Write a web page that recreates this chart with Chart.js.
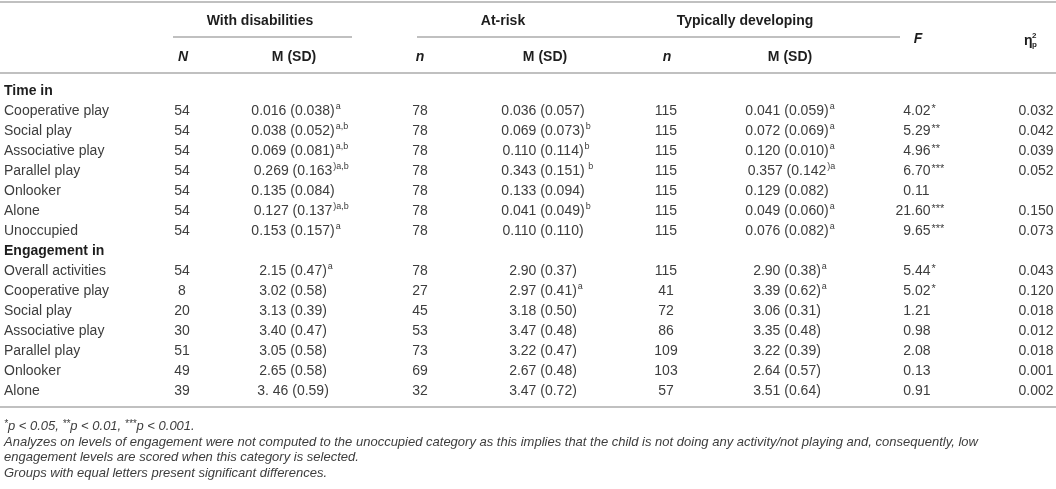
<!DOCTYPE html>
<html>
<head>
<meta charset="utf-8">
<script src="https://cdn.jsdelivr.net/npm/chart.js@4/dist/chart.umd.min.js"></script>
<style>
html, body { margin: 0; padding: 0; background: #fff; }
#wrap { width: 1056px; height: 489px; position: relative; }
</style>
</head>
<body>
<div id="wrap"><canvas id="myChart"></canvas></div>
<script>
// rows of the table, section rows carry no values
const rowLabels = [
    'Time in',
    'Cooperative play', 'Social play', 'Associative play', 'Parallel play',
    'Onlooker', 'Alone', 'Unoccupied',
    'Engagement in',
    'Overall activities', 'Cooperative play', 'Social play', 'Associative play',
    'Parallel play', 'Onlooker', 'Alone'
];
const sectionRows = [0, 8];

// with disabilities
const disN = [null, 54, 54, 54, 54, 54, 54, 54, null, 54, 8, 20, 30, 51, 49, 39];
const disM = [null,
    '0.016 (0.038)', '0.038 (0.052)', '0.069 (0.081)', '0.269 (0.163', '0.135 (0.084)',
    '0.127 (0.137', '0.153 (0.157)', null,
    '2.15 (0.47)', '3.02 (0.58)', '3.13 (0.39)', '3.40 (0.47)', '3.05 (0.58)',
    '2.65 (0.58)', '3. 46 (0.59)'];
const disSup = ['', 'a', 'a,b', 'a,b', ')a,b', '', ')a,b', 'a', '', 'a', '', '', '', '', '', ''];

// at-risk
const riskN = [null, 78, 78, 78, 78, 78, 78, 78, null, 78, 27, 45, 53, 73, 69, 32];
const riskM = [null,
    '0.036 (0.057)', '0.069 (0.073)', '0.110 (0.114)', '0.343 (0.151)', '0.133 (0.094)',
    '0.041 (0.049)', '0.110 (0.110)', null,
    '2.90 (0.37)', '2.97 (0.41)', '3.18 (0.50)', '3.47 (0.48)', '3.22 (0.47)',
    '2.67 (0.48)', '3.47 (0.72)'];
const riskSup = ['', '', 'b', 'b', ' b', '', 'b', '', '', '', 'a', '', '', '', '', ''];

// typically developing
const typN = [null, 115, 115, 115, 115, 115, 115, 115, null, 115, 41, 72, 86, 109, 103, 57];
const typM = [null,
    '0.041 (0.059)', '0.072 (0.069)', '0.120 (0.010)', '0.357 (0.142', '0.129 (0.082)',
    '0.049 (0.060)', '0.076 (0.082)', null,
    '2.90 (0.38)', '3.39 (0.62)', '3.06 (0.31)', '3.35 (0.48)', '3.22 (0.39)',
    '2.64 (0.57)', '3.51 (0.64)'];
const typSup = ['', 'a', 'a', 'a', ')a', '', 'a', 'a', '', 'a', 'a', '', '', '', '', ''];

// F and partial eta squared
const fVals = [null, '4.02', '5.29', '4.96', '6.70', '0.11', '21.60', '9.65', null,
    '5.44', '5.02', '1.21', '0.98', '2.08', '0.13', '0.91'];
const fStars = ['', '*', '**', '**', '***', '', '***', '***', '', '*', '*', '', '', '', '', ''];
const etaVals = [null, '0.032', '0.042', '0.039', '0.052', '', '0.150', '0.073', null,
    '0.043', '0.120', '0.018', '0.012', '0.018', '0.001', '0.002'];

const groupHeads = ['With disabilities', 'At-risk', 'Typically developing'];
const notes = [
    'Analyzes on levels of engagement were not computed to the unoccupied category as this implies that the child is not doing any activity/not playing and, consequently, low',
    'engagement levels are scored when this category is selected.',
    'Groups with equal letters present significant differences.'
];

// layout
const FONT = '"Liberation Sans", Arial, Helvetica, sans-serif';
const TXT = '#3d3d3d';
const HEAD = '#1e1e1e';
const RULE = '#ababab';
const colX = { disN: 182, disM: 293, riskN: 420, riskM: 543, typN: 666, typM: 787, fDec: 911, eta: 1036 };
const groupX = [260, 503, 745];
const groupSpan = [[173, 352], [417, 592], [592, 900]];

function sup(ctx, x, y, s, size) {
    if (!s) return;
    ctx.font = (size || 9) + 'px ' + FONT;
    ctx.textAlign = 'left';
    ctx.fillText(s, x, y);
}

function centred(ctx, x, y, main, s) {
    ctx.font = '14px ' + FONT;
    ctx.textAlign = 'left';
    const w = ctx.measureText(main).width;
    ctx.fillText(main, x - w / 2, y);
    sup(ctx, x + w / 2 + 1, y - 4, s);
}

const tablePlugin = {
    id: 'tableText',
    afterDraw(chart) {
        const { ctx, chartArea, scales } = chart;
        const x = scales.x, y = scales.y;
        const top = chartArea.top, bottom = chartArea.bottom;
        const W = chart.width;
        const px = v => x.getPixelForValue(v);
        ctx.save();

        // rules
        ctx.strokeStyle = RULE;
        ctx.lineWidth = 1.5;
        const hline = (a, b, yy) => {
            ctx.beginPath(); ctx.moveTo(a, yy); ctx.lineTo(b, yy); ctx.stroke();
        };
        hline(0, W, top - 79);
        hline(0, W, top - 8);
        hline(0, W, bottom + 6);
        groupSpan.forEach(s => hline(px(s[0]), px(s[1]), top - 44));

        // headers
        ctx.fillStyle = HEAD;
        ctx.textBaseline = 'middle';
        ctx.textAlign = 'center';
        ctx.font = 'bold 14px ' + FONT;
        groupHeads.forEach((h, i) => ctx.fillText(h, px(groupX[i]), top - 60));
        ctx.fillText('M (SD)', px(294), top - 24);
        ctx.fillText('M (SD)', px(545), top - 24);
        ctx.fillText('M (SD)', px(790), top - 24);
        ctx.font = 'italic bold 14px ' + FONT;
        ctx.fillText('N', px(183), top - 24);
        ctx.fillText('n', px(420), top - 24);
        ctx.fillText('n', px(667), top - 24);
        ctx.fillText('F', px(918), top - 42);
        ctx.font = 'bold 14px ' + FONT;
        ctx.textAlign = 'left';
        ctx.fillText('\u03b7', px(1024), top - 40);
        ctx.font = 'bold 8px ' + FONT;
        ctx.fillText('2', px(1032), top - 45);
        ctx.fillText('p', px(1032), top - 36);

        // body cells
        ctx.fillStyle = TXT;
        rowLabels.forEach((lab, i) => {
            if (sectionRows.includes(i)) return;
            const py = y.getPixelForValue(i);
            ctx.font = '14px ' + FONT;
            ctx.textAlign = 'center';
            ctx.fillText(String(disN[i]), px(colX.disN), py);
            ctx.fillText(String(riskN[i]), px(colX.riskN), py);
            ctx.fillText(String(typN[i]), px(colX.typN), py);
            centred(ctx, px(colX.disM), py, disM[i], disSup[i]);
            centred(ctx, px(colX.riskM), py, riskM[i], riskSup[i]);
            centred(ctx, px(colX.typM), py, typM[i], typSup[i]);
            // F, aligned on the decimal point
            const parts = fVals[i].split('.');
            ctx.font = '14px ' + FONT;
            ctx.textAlign = 'right';
            ctx.fillText(parts[0], px(colX.fDec), py);
            ctx.textAlign = 'left';
            const frac = '.' + parts[1];
            ctx.fillText(frac, px(colX.fDec), py);
            const fw = ctx.measureText(frac).width;
            sup(ctx, px(colX.fDec) + fw + 1, py - 2, fStars[i], 11);
            ctx.font = '14px ' + FONT;
            ctx.textAlign = 'center';
            if (etaVals[i]) ctx.fillText(etaVals[i], px(colX.eta), py);
        });

        // footnotes
        ctx.textAlign = 'left';
        let nx = 4;
        const ny = bottom + 25;
        const seg = (t, small) => {
            ctx.font = 'italic ' + (small ? 10 : 13) + 'px ' + FONT;
            ctx.fillText(t, nx, small ? ny - 2 : ny);
            nx += ctx.measureText(t).width;
        };
        seg('*', true); seg('p < 0.05, ');
        seg('**', true); seg('p < 0.01, ');
        seg('***', true); seg('p < 0.001.');
        ctx.font = 'italic 13px ' + FONT;
        notes.forEach((t, i) => ctx.fillText(t, 4, bottom + 41 + i * 15.5));
        ctx.restore();
    }
};

const config = {
    type: 'scatter',
    data: {
        labels: rowLabels,
        datasets: []
    },
    options: {
        responsive: true,
        maintainAspectRatio: false,
        animation: false,
        events: [],
        layout: { padding: { top: 81, bottom: 88, left: 4, right: 0 } },
        plugins: {
            legend: { display: false },
            tooltip: { enabled: false },
            title: { display: false }
        },
        scales: {
            x: {
                type: 'linear',
                display: false,
                min: 124,
                max: 1056
            },
            y: {
                type: 'category',
                offset: true,
                grid: { display: false, drawTicks: false },
                border: { display: false },
                ticks: {
                    autoSkip: false,
                    crossAlign: 'far',
                    padding: 0,
                    color: c => sectionRows.includes(c.index) ? HEAD : TXT,
                    font: c => ({ family: FONT, size: 14, weight: sectionRows.includes(c.index) ? 'bold' : 'normal' })
                },
                afterFit: s => { s.width = 120; }
            }
        }
    },
    plugins: [tablePlugin]
};

var myChart = new Chart(document.getElementById('myChart'), config);
</script>
</body>
</html>
